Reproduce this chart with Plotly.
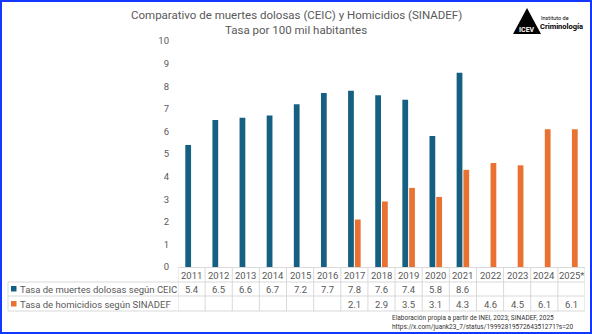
import plotly.graph_objects as go

# Data
years = ["2011", "2012", "2013", "2014", "2015", "2016", "2017", "2018",
         "2019", "2020", "2021", "2022", "2023", "2024", "2025*"]
ceic = [5.4, 6.5, 6.6, 6.7, 7.2, 7.7, 7.8, 7.6, 7.4, 5.8, 8.6,
        None, None, None, None]
sinadef = [None, None, None, None, None, None, 2.1, 2.9, 3.5, 3.1, 4.3,
           4.6, 4.5, 6.1, 6.1]
series_names = ["Tasa de muertes dolosas según CEIC",
                "Tasa de homicidios según SINADEF"]
y_ticks = list(range(0, 11))

BLUE = "#156082"
ORANGE = "#E97132"
GRID = "#d9d9d9"
TXT = "#595959"
FONT = "Roboto"

# Figure geometry (pixels)
FW, FH = 592, 334
L, R, T, B = 178, 585, 41, 267
W, H = R - L, B - T


def px(x):
    return (x - L) / W


def py(y):
    return (B - y) / H


fig = go.Figure()
fig.add_bar(x=years, y=ceic, name=series_names[0], marker_color=BLUE,
            marker_line_width=0)
fig.add_bar(x=years, y=sinadef, name=series_names[1], marker_color=ORANGE,
            marker_line_width=0)

shapes = []
annotations = []


def note(x, y, text, size, color=TXT, xref="paper", anchor="center", bold=False):
    annotations.append(dict(x=x, y=y, xref=xref, yref="paper",
                            text=f"<b>{text}</b>" if bold else text,
                            showarrow=False, xanchor=anchor, yanchor="middle",
                            font=dict(size=size, color=color, family=FONT)))


# Data table beneath the bars (category positions by index on the x axis)
row_y = [268, 282, 296, 311]
for i in range(len(years) + 1):
    shapes.append(dict(type="line", xref="x", yref="paper",
                       x0=i - 0.5, x1=i - 0.5, y0=py(row_y[0]), y1=py(row_y[-1]),
                       line=dict(color=GRID, width=1)))
for yy in row_y[1:]:
    shapes.append(dict(type="line", xref="paper", yref="paper",
                       x0=px(8), x1=px(R), y0=py(yy), y1=py(yy),
                       line=dict(color=GRID, width=1)))
shapes.append(dict(type="line", xref="paper", yref="paper",
                   x0=px(8), x1=px(8), y0=py(282), y1=py(311),
                   line=dict(color=GRID, width=1)))
shapes.append(dict(type="line", xref="paper", yref="paper",
                   x0=px(L), x1=px(R), y0=py(267.5), y1=py(267.5),
                   line=dict(color=GRID, width=1)))

for i, yr in enumerate(years):
    note(i, py(275), yr, 9.5, xref="x")
for vals, yy in ((ceic, 289), (sinadef, 304)):
    for i, v in enumerate(vals):
        if v is not None:
            note(i, py(yy), f"{v:.1f}", 9.5, xref="x")

# Legend keys inside the table
for name, col, yy in ((series_names[0], BLUE, 289), (series_names[1], ORANGE, 304)):
    shapes.append(dict(type="rect", xref="paper", yref="paper",
                       x0=px(11), x1=px(16.5), y0=py(yy - 3), y1=py(yy + 2.5),
                       fillcolor=col, line=dict(width=0)))
    note(px(18), py(yy), name, 9.5, anchor="left")

# Source note
note(px(390), py(318), "Elaboración propia a partir de INEI, 2023; SINADEF, 2025",
     6.5, color="#333333", anchor="left")
note(px(390), py(327), "https://x.com/juank23_7/status/1999281957264351271?s=20",
     6.5, color="#333333", anchor="left")

# Title
note(px(296), py(15), "Comparativo de muertes dolosas (CEIC) y Homicidios (SINADEF)", 11.5)
note(px(296), py(30), "Tasa por 100 mil habitantes", 11.5)

# Institute logo
shapes.append(dict(type="path", xref="paper", yref="paper",
                   path=f"M {px(513)} {py(34)} L {px(527)} {py(8)} L {px(541)} {py(34)} Z",
                   fillcolor="black", line=dict(width=0)))
note(px(527), py(30), "ICEV", 7, color="white", bold=True)
note(px(539), py(18), "Instituto de", 5.5, color="black", anchor="left")
note(px(538), py(26), "Criminología", 7.5, color="black", anchor="left", bold=True)

# Outer frame
shapes.append(dict(type="rect", xref="paper", yref="paper",
                   x0=px(1), x1=px(FW - 1), y0=py(1), y1=py(FH - 1),
                   line=dict(color="#1437ff", width=2)))

fig.update_layout(
    width=FW, height=FH,
    margin=dict(l=L, r=FW - R, t=T, b=FH - B),
    paper_bgcolor="white", plot_bgcolor="white",
    barmode="group", bargap=0.5, bargroupgap=0.15,
    showlegend=False,
    shapes=shapes, annotations=annotations,
    font=dict(family=FONT, color=TXT),
)
fig.update_xaxes(type="category", range=[-0.5, len(years) - 0.5],
                 showticklabels=False, showgrid=False,
                 zeroline=False, showline=False, ticks="")
fig.update_yaxes(range=[0, 10], tickvals=y_ticks, showgrid=False,
                 zeroline=False, showline=False, ticks="",
                 ticklabelstandoff=8,
                 tickfont=dict(size=9.5, color=TXT, family=FONT))

fig.write_html("out.html")
